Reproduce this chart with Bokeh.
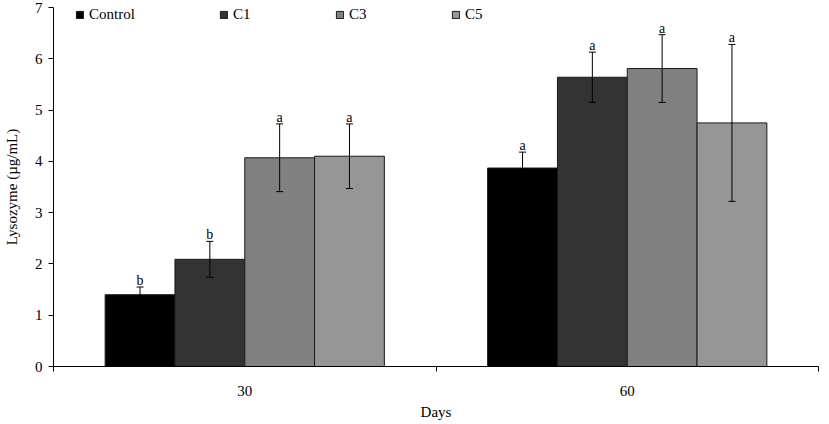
from bokeh.plotting import figure
from bokeh.models import (ColumnDataSource, Range1d, FixedTicker, Whisker, TeeHead,
                          Legend, LegendItem)
from bokeh.core.properties import value
from bokeh.embed import file_html
from bokeh.resources import INLINE

# Lysozyme activity by sampling day and treatment
days = ["30", "60"]
treatments = ["Control", "C1", "C3", "C5"]
colors = ["#000000", "#333333", "#808080", "#969696"]

lysozyme = {
    "Control": [1.40, 3.87],
    "C1": [2.09, 5.64],
    "C3": [4.07, 5.81],
    "C5": [4.10, 4.75],
}
errors = {
    "Control": [0.15, 0.31],
    "C1": [0.35, 0.49],
    "C3": [0.66, 0.66],
    "C5": [0.63, 1.53],
}
letters = {
    "Control": ["b", "a"],
    "C1": ["b", "a"],
    "C3": ["a", "a"],
    "C5": ["a", "a"],
}

FONT = "Liberation Serif"
group_pad = 0.135
bar_w = (1 - 2 * group_pad) / len(treatments)

p = figure(width=829, height=424, output_backend="svg", toolbar_location=None,
           x_range=Range1d(0, 2), y_range=Range1d(0, 7),
           min_border_left=53, min_border_right=11, min_border_top=7,
           min_border_bottom=58)
p.outline_line_color = None
p.xgrid.visible = False
p.ygrid.visible = False
p.background_fill_color = "white"
p.border_fill_color = "white"

legends = []
for j, t in enumerate(treatments):
    xs = [i + group_pad + (j + 0.5) * bar_w for i in range(len(days))]
    vals = lysozyme[t]
    err = errors[t]
    src = ColumnDataSource(dict(
        x=xs, top=vals,
        upper=[v + e for v, e in zip(vals, err)],
        lower=[v - e for v, e in zip(vals, err)],
        letter=letters[t],
    ))
    r = p.vbar(x="x", top="top", width=bar_w, source=src, fill_color=colors[j],
               line_color="#1a1a1a", line_width=1)
    p.add_layout(Whisker(source=src, base="x", upper="upper", lower="lower",
                         level="overlay", line_color="black", line_width=1,
                         upper_head=TeeHead(size=7, line_color="black", line_width=1),
                         lower_head=TeeHead(size=7, line_color="black", line_width=1)))
    p.text(x="x", y="upper", text="letter", source=src, text_align="center",
           text_baseline="bottom", text_font=value(FONT), text_font_size="14px",
           text_color="black", y_offset=1)
    legends.append((t, r))

# Legend entries spread along the top of the plot
legend_x = [22, 166, 282, 398]
for (t, r), lx in zip(legends, legend_x):
    lg = Legend(items=[LegendItem(label=t, renderers=[r])], location=(lx, 343),
                orientation="horizontal", padding=0, margin=0, spacing=0,
                glyph_width=9, glyph_height=9, label_standoff=5, label_height=15,
                label_text_font=FONT, label_text_font_size="15px",
                label_text_color="black",
                border_line_color=None, background_fill_alpha=0)
    p.add_layout(lg, "center")

# X axis: labels centred on each day, tick marks at group boundaries
xa = p.xaxis[0]
xa.ticker = FixedTicker(ticks=[0.5, 1.5], minor_ticks=[0, 1, 2])
xa.major_label_overrides = {0.5: "30", 1.5: "60"}
xa.major_tick_out = 0
xa.major_tick_in = 0
xa.minor_tick_out = 5
xa.minor_tick_in = 0
xa.minor_tick_line_color = "black"
xa.axis_line_color = "black"
xa.major_label_text_font = FONT
xa.major_label_text_font_size = "15px"
xa.major_label_text_color = "black"
xa.major_label_standoff = 14
xa.axis_label = "Days"
xa.axis_label_text_font = FONT
xa.axis_label_text_font_size = "15px"
xa.axis_label_text_font_style = "normal"
xa.axis_label_text_color = "black"
xa.axis_label_standoff = 5

ya = p.yaxis[0]
ya.ticker = FixedTicker(ticks=list(range(0, 8)))
ya.minor_tick_line_color = None
ya.major_tick_out = 5
ya.major_tick_in = 0
ya.major_tick_line_color = "black"
ya.axis_line_color = "black"
ya.major_label_text_font = FONT
ya.major_label_text_font_size = "15px"
ya.major_label_text_color = "black"
ya.major_label_standoff = 6
ya.axis_label = "Lysozyme (µg/mL)"
ya.axis_label_text_font = FONT
ya.axis_label_text_font_size = "15px"
ya.axis_label_text_font_style = "normal"
ya.axis_label_text_color = "black"
ya.axis_label_standoff = 12

open("out.html", "w").write(file_html(p, INLINE))
